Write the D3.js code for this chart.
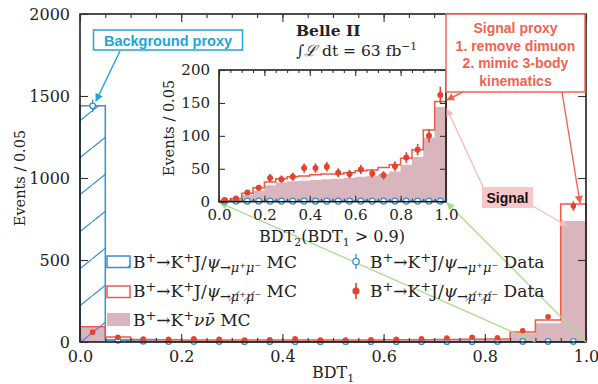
<!DOCTYPE html>
<html>
<head>
<meta charset="utf-8">
<script src="https://cdn.jsdelivr.net/npm/d3@7"></script>
<style>
body { margin: 0; background: #fff; }
text { font-family: "DejaVu Serif", serif; fill: #222; }
.ann { font-family: "Liberation Sans", Arial, sans-serif; font-weight: bold; }
</style>
</head>
<body>
<div id="chart"></div>
<script>
// bin edges shared by both histograms (width 0.05)
var binEdges = [0, 0.05, 0.1, 0.15, 0.2, 0.25, 0.3, 0.35, 0.4, 0.45, 0.5,
                0.55, 0.6, 0.65, 0.7, 0.75, 0.8, 0.85, 0.9, 0.95, 1.0];

// main plot: BDT1
var mainBlueMC   = [1440, 12, 5, 3, 2, 2, 2, 2, 2, 2, 2, 2, 2, 2, 2, 2, 2, 2, 2, 1];
var mainBlueData = [1440, 10, 5, 3, 3, 3, 2, 2, 2, 2, 2, 2, 2, 2, 2, 2, 3, 3, 3, 3];
var mainRedMC    = [93, 30, 16, 13, 12, 12, 12, 12, 12, 12, 12, 12, 13, 14, 15, 17, 18, 61, 134, 841];
var mainRedData  = [60, 29, 18, 16, 20, 16, 12, 14, 20, 12, 12, 14, 16, 20, 24, 29, 26, 69, 154, 829];
var mainSignal   = [90, 20, 10, 8, 8, 8, 8, 8, 8, 8, 8, 8, 9, 10, 11, 12, 14, 53, 114, 738];

// inset: BDT2 for BDT1 > 0.9
var insetBlueMC   = [0.5, 0.5, 0.5, 0.5, 0.5, 0.5, 0.5, 0.5, 0.5, 0.5, 0.5, 0.5, 0.5, 0.5, 0.5, 0.5, 0.5, 0.5, 0.5, 0.5];
var insetBlueData = [1, 1, 1, 1, 1, 1, 1, 1, 1, 1, 1, 1, 1, 1, 1, 1, 1, 1, 1, 1];
var insetRedMC    = [1, 5, 13, 21, 30, 35, 38, 39, 41, 42, 42, 44, 47, 48, 52, 56, 66, 79, 109, 152];
var insetRedData  = [2.6, 5, 14, 21, 36, 34, 38, 51, 51, 53, 44, 42, 49, 43, 40, 54, 67, 79, 100, 162];
var insetSignal   = [0.5, 3, 10, 17, 25, 29, 31, 32, 33, 34, 35, 36, 38, 39, 42, 46, 56, 68, 97, 144];

var mainYTicks = [0, 500, 1000, 1500, 2000];
var insetYTicks = [0, 50, 100, 150, 200];
var xTicks = [0, 0.2, 0.4, 0.6, 0.8, 1.0];

var blue = "#3a8fcf", annBlue = "#1ea5da";
var red = "#ee5a45", redPt = "#e4432f", annRed = "#f26350";
var pink = "#d9b6be", green = "#a9dc8e", signalBg = "#f7c6c6", signalLine = "#f5bdbd";

var svg = d3.select("#chart").append("svg")
    .attr("width", 598)
    .attr("height", 384);

var defs = svg.append("defs");
defs.append("pattern")
    .attr("id", "hatch")
    .attr("patternUnits", "userSpaceOnUse")
    .attr("width", 46).attr("height", 37)
    .append("path")
    .attr("d", "M-4,40.2 L50,-3.2")
    .attr("stroke", blue).attr("stroke-width", 1.3);

function arrowMarker(id, color) {
    defs.append("marker")
        .attr("id", id)
        .attr("viewBox", "0 0 10 10")
        .attr("refX", 9).attr("refY", 5)
        .attr("markerWidth", 8).attr("markerHeight", 8)
        .attr("markerUnits", "userSpaceOnUse")
        .attr("orient", "auto")
        .append("path")
        .attr("d", "M0,0 L10,5 L0,10 z")
        .attr("fill", color);
}
arrowMarker("arBlue", annBlue);
arrowMarker("arRed", annRed);
arrowMarker("arPink", signalLine);
arrowMarker("arGreen", green);

function stepPoints(vals) {
    var p = [[binEdges[0], 0]];
    vals.forEach(function (v, i) {
        p.push([binEdges[i], v]);
        p.push([binEdges[i + 1], v]);
    });
    p.push([binEdges[binEdges.length - 1], 0]);
    return p;
}

function centers() {
    return binEdges.slice(1).map(function (e, i) { return (e + binEdges[i]) / 2; });
}

// draws one panel (main or inset)
function panel(x, y, o) {
    var g = svg.append("g");
    var line = d3.line().x(function (d) { return x(d[0]); }).y(function (d) { return y(d[1]); });
    var c = centers();

    if (o.bg) {
        g.append("rect")
            .attr("x", x(0)).attr("y", y(y.domain()[1]))
            .attr("width", x(1) - x(0)).attr("height", y(0) - y(y.domain()[1]))
            .attr("fill", "#fff");
    }
    g.append("path").attr("d", line(stepPoints(o.signal))).attr("fill", pink);
    g.append("path").attr("d", line(stepPoints(o.blueMC)))
        .attr("fill", o.hatch ? "url(#hatch)" : "none")
        .attr("stroke", blue).attr("stroke-width", 1.5);
    g.append("path").attr("d", line(stepPoints(o.redMC)))
        .attr("fill", "none").attr("stroke", red).attr("stroke-width", 1.5);

    // blue data: open circles
    var bd = g.selectAll(".bd").data(o.blueData).enter().append("g");
    bd.append("line")
        .attr("x1", function (d, i) { return x(c[i]); })
        .attr("x2", function (d, i) { return x(c[i]); })
        .attr("y1", function (d) { return y(d + Math.sqrt(d)); })
        .attr("y2", function (d) { return y(Math.max(0, d - Math.sqrt(d))); })
        .attr("stroke", blue).attr("stroke-width", 1.3);
    bd.append("circle")
        .attr("cx", function (d, i) { return x(c[i]); })
        .attr("cy", function (d) { return y(d); })
        .attr("r", o.r)
        .attr("fill", "#fff").attr("stroke", blue).attr("stroke-width", 1.3);

    // red data: filled dots with error bars
    var rd = g.selectAll(".rd").data(o.redData).enter().append("g");
    rd.append("line")
        .attr("x1", function (d, i) { return x(c[i]); })
        .attr("x2", function (d, i) { return x(c[i]); })
        .attr("y1", function (d) { return y(d + Math.sqrt(d)); })
        .attr("y2", function (d) { return y(Math.max(0, d - Math.sqrt(d))); })
        .attr("stroke", redPt).attr("stroke-width", 1.6);
    rd.append("circle")
        .attr("cx", function (d, i) { return x(c[i]); })
        .attr("cy", function (d) { return y(d); })
        .attr("r", o.r)
        .attr("fill", redPt);

    // frame
    g.append("rect")
        .attr("x", x(0)).attr("y", y(y.domain()[1]))
        .attr("width", x(1) - x(0)).attr("height", y(0) - y(y.domain()[1]))
        .attr("fill", "none").attr("stroke", "#111").attr("stroke-width", 1.5);

    var top = y(y.domain()[1]), bottom = y(0), left = x(0), right = x(1);
    var fmt = d3.format(".1f");

    var ax = g.append("g").attr("transform", "translate(0," + bottom + ")")
        .call(d3.axisBottom(x).tickValues(xTicks).tickSize(-o.major).tickPadding(o.xpad).tickFormat(fmt));
    var axm = g.append("g").attr("transform", "translate(0," + bottom + ")")
        .call(d3.axisBottom(x).tickValues(binEdges).tickSize(-o.minor).tickFormat(""));
    var axt = g.append("g").attr("transform", "translate(0," + top + ")")
        .call(d3.axisTop(x).tickValues(xTicks).tickSize(-o.major).tickFormat(""));
    var axtm = g.append("g").attr("transform", "translate(0," + top + ")")
        .call(d3.axisTop(x).tickValues(binEdges).tickSize(-o.minor).tickFormat(""));
    var ay = g.append("g").attr("transform", "translate(" + left + ",0)")
        .call(d3.axisLeft(y).tickValues(o.yTicks).tickSize(-o.major).tickPadding(o.ypad).tickFormat(d3.format("d")));
    var ayr = g.append("g").attr("transform", "translate(" + right + ",0)")
        .call(d3.axisRight(y).tickValues(o.yTicks).tickSize(-o.major).tickFormat(""));

    [ax, axm, axt, axtm, ay, ayr].forEach(function (a) {
        a.select(".domain").remove();
        a.selectAll("line").attr("stroke", "#333").attr("stroke-width", 1.1);
        a.selectAll("text").attr("font-family", "DejaVu Serif").attr("font-size", o.fs).attr("fill", "#222");
    });
    return g;
}

var x = d3.scaleLinear().domain([0, 1]).range([80, 586]);
var y = d3.scaleLinear().domain([0, 2000]).range([342, 14]);
var xi = d3.scaleLinear().domain([0, 1]).range([219, 446]);
var yi = d3.scaleLinear().domain([0, 200]).range([201.7, 70]);

panel(x, y, {
    signal: mainSignal, blueMC: mainBlueMC, redMC: mainRedMC,
    blueData: mainBlueData, redData: mainRedData,
    hatch: true, r: 2.8, major: 8, minor: 4, xpad: 9, ypad: 10, fs: 16, yTicks: mainYTicks
});

// green zoom lines, from main bins to inset corners
var zoomLines = [[0.9, 0], [1.0, 1.0]];
svg.selectAll(".zl").data(zoomLines).enter().append("line")
    .attr("x1", function (d) { return x(d[0]); })
    .attr("y1", y(0))
    .attr("x2", function (d) { return xi(d[1]) + 1; })
    .attr("y2", yi(0) + 1)
    .attr("stroke", green).attr("stroke-width", 1.3)
    .attr("marker-end", "url(#arGreen)");

panel(xi, yi, {
    signal: insetSignal, blueMC: insetBlueMC, redMC: insetRedMC,
    blueData: insetBlueData, redData: insetRedData,
    hatch: false, r: 3, major: 6, minor: 3, xpad: 8, ypad: 9, fs: 15, yTicks: insetYTicks, bg: true
});

// rich text helper: parts are {t, k: n|sup|sub, i: italic}
function richText(x0, y0, parts, size, anchor, scale) {
    scale = scale || 0.68;
    var t = svg.append("text").attr("x", x0).attr("y", y0)
        .attr("font-size", size).attr("text-anchor", anchor || "start");
    var shift = 0;
    parts.forEach(function (p) {
        var k = p.k || "n";
        var target = k === "sup" ? -size * 0.38 : k === "sub" ? size * 0.25 : 0;
        var s = t.append("tspan").text(p.t).attr("dy", target - shift);
        shift = target;
        if (k !== "n") s.attr("font-size", size * scale);
        if (p.i) s.attr("font-style", "italic");
    });
    return t;
}

// axis titles
svg.append("text")
    .attr("transform", "translate(25,178) rotate(-90)")
    .attr("text-anchor", "middle").attr("font-size", 14.5)
    .text("Events / 0.05");
svg.append("text")
    .attr("transform", "translate(174,128) rotate(-90)")
    .attr("text-anchor", "middle").attr("font-size", 14.5)
    .text("Events / 0.05");
richText(333, 378, [{t: "BDT"}, {t: "1", k: "sub"}], 16, "middle");
richText(332, 242, [{t: "BDT"}, {t: "2", k: "sub"}, {t: "(BDT"}, {t: "1", k: "sub"}, {t: " > 0.9)"}], 16, "middle");

// legend
var legFs = 17, legSub = 0.76;
var decayMu = [{t: "B"}, {t: "+", k: "sup"}, {t: "→K"}, {t: "+", k: "sup"}, {t: "J/"}, {t: "ψ", i: true}, {t: "→μ⁺μ⁻", k: "sub", i: true}];
var decayNu = [{t: "B"}, {t: "+", k: "sup"}, {t: "→K"}, {t: "+", k: "sup"}, {t: "J/"}, {t: "ψ", i: true}, {t: "→μ\u0338⁺μ\u0338⁻", k: "sub", i: true}];
var decaySig = [{t: "B"}, {t: "+", k: "sup"}, {t: "→K"}, {t: "+", k: "sup"}, {t: "ν", i: true}, {t: "ν\u0304", i: true}, {t: " MC"}];

svg.append("rect").attr("x", 107).attr("y", 256).attr("width", 23).attr("height", 11.5)
    .attr("fill", "url(#hatch)").attr("stroke", blue).attr("stroke-width", 1.5);
richText(133, 268, decayMu.concat([{t: " MC"}]), legFs, "start", legSub);
svg.append("rect").attr("x", 107).attr("y", 286).attr("width", 23).attr("height", 11.5)
    .attr("fill", "none").attr("stroke", red).attr("stroke-width", 1.5);
richText(133, 297, decayNu.concat([{t: " MC"}]), legFs, "start", legSub);
svg.append("rect").attr("x", 107).attr("y", 313).attr("width", 23).attr("height", 13)
    .attr("fill", pink);
richText(133, 326, decaySig, legFs, "start", legSub);

svg.append("line").attr("x1", 356).attr("x2", 356).attr("y1", 254).attr("y2", 269)
    .attr("stroke", blue).attr("stroke-width", 1.3);
svg.append("circle").attr("cx", 356).attr("cy", 261.5).attr("r", 3.2)
    .attr("fill", "#fff").attr("stroke", blue).attr("stroke-width", 1.3);
richText(370, 268, decayMu.concat([{t: " Data"}]), legFs, "start", legSub);
svg.append("line").attr("x1", 356).attr("x2", 356).attr("y1", 283).attr("y2", 299)
    .attr("stroke", redPt).attr("stroke-width", 1.6);
svg.append("circle").attr("cx", 356).attr("cy", 291).attr("r", 3.6).attr("fill", redPt);
richText(370, 297, decayNu.concat([{t: " Data"}]), legFs, "start", legSub);

// experiment label
svg.append("text").attr("x", 296).attr("y", 36).attr("font-size", 15.5)
    .attr("font-weight", "bold").text("Belle II");
richText(296, 56, [{t: "∫", i: true}, {t: "ℒ", i: true}, {t: " dt = 63 fb"}, {t: "−1", k: "sup"}], 15.5);

// annotations
svg.append("rect").attr("x", 93.5).attr("y", 30).attr("width", 149).attr("height", 20)
    .attr("fill", "#fff").attr("stroke", annBlue).attr("stroke-width", 1.5);
svg.append("text").attr("class", "ann").attr("x", 168).attr("y", 45.5)
    .attr("text-anchor", "middle").attr("font-size", 14.5).style("fill", annBlue)
    .text("Background proxy");
svg.append("line").attr("x1", 120).attr("y1", 51).attr("x2", 96).attr("y2", 101)
    .attr("stroke", annBlue).attr("stroke-width", 1.4).attr("marker-end", "url(#arBlue)");

svg.append("rect").attr("x", 446).attr("y", 14).attr("width", 139).attr("height", 78)
    .attr("fill", "#fff").attr("stroke", annRed).attr("stroke-width", 1.5);
var proxyLines = ["Signal proxy", "1. remove dimuon", "2. mimic 3-body", "kinematics"];
svg.selectAll(".pl").data(proxyLines).enter().append("text")
    .attr("class", "ann")
    .attr("x", 515.5)
    .attr("y", function (d, i) { return 33 + i * 17.7; })
    .attr("text-anchor", "middle").attr("font-size", 14)
    .style("fill", annRed)
    .text(function (d) { return d; });
svg.append("line").attr("x1", 463).attr("y1", 92).attr("x2", 447).attr("y2", 100)
    .attr("stroke", annRed).attr("stroke-width", 1.4).attr("marker-end", "url(#arRed)");
svg.append("line").attr("x1", 562).attr("y1", 92).attr("x2", 580).attr("y2", 203)
    .attr("stroke", annRed).attr("stroke-width", 1.4).attr("marker-end", "url(#arRed)");

svg.append("line").attr("x1", 484).attr("y1", 189).attr("x2", 447).attr("y2", 109)
    .attr("stroke", signalLine).attr("stroke-width", 1.4).attr("marker-end", "url(#arPink)");
svg.append("line").attr("x1", 531).attr("y1", 205).attr("x2", 567).attr("y2", 226)
    .attr("stroke", signalLine).attr("stroke-width", 1.4).attr("marker-end", "url(#arPink)");
svg.append("rect").attr("x", 482).attr("y", 187).attr("width", 51).attr("height", 21)
    .attr("fill", signalBg);
svg.append("text").attr("class", "ann").attr("x", 507.5).attr("y", 203)
    .attr("text-anchor", "middle").attr("font-size", 14).style("fill", "#111")
    .text("Signal");
</script>
</body>
</html>
